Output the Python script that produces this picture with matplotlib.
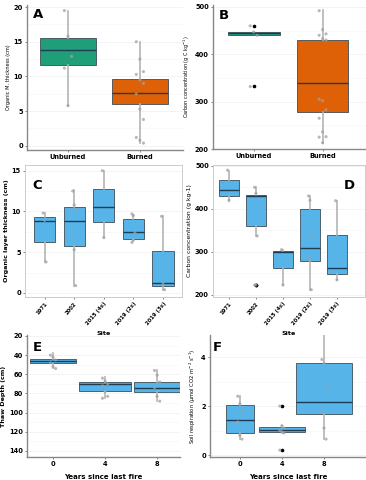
import matplotlib
matplotlib.use("Agg")
import matplotlib.pyplot as plt
from matplotlib.ticker import AutoMinorLocator

plt.rcParams['font.family'] = 'DejaVu Sans'

# ---- data ----
# Panel A: organic layer thickness, unburned vs burned
a_groups = ["Unburned", "Burned"]
a_q1 = [11.6, 6.1]
a_med = [13.8, 7.6]
a_q3 = [15.5, 9.7]
a_lo = [5.8, 0.4]
a_hi = [19.5, 15.0]
a_pts = [[19.5, 15.8, 12.9, 11.2, 5.8],
         [15.0, 12.5, 10.7, 10.3, 9.5, 9.0, 7.5, 5.3, 3.8, 1.2, 0.8, 0.4]]
a_fliers = [[], []]

# Panel B: carbon concentration, unburned vs burned
b_q1 = [441.5, 279]
b_med = [444, 339]
b_q3 = [446.5, 430]
b_lo = [440, 212]
b_hi = [447, 494]
b_pts = [[460, 447, 440, 332],
         [492, 452, 443, 440, 433, 430, 305, 302, 283, 265, 236, 226, 225, 213]]
b_fliers = [[460, 332], []]

# Panels C/D: by site
sites = ["1971", "2002", "2015 (4x)", "2019 (2x)", "2019 (3x)"]
c_q1 = [6.3, 5.8, 8.7, 6.6, 0.8]
c_med = [8.8, 8.8, 10.5, 7.5, 1.2]
c_q3 = [9.3, 10.6, 12.8, 9.06, 5.2]
c_lo = [3.8, 0.9, 6.8, 6.4, 0.4]
c_hi = [9.8, 12.6, 15.0, 9.6, 9.4]
c_pts = [[9.8, 8.9, 3.8],
         [12.5, 10.8, 10.2, 7.2, 5.3, 0.9],
         [15.0, 6.8],
         [9.7, 9.5, 7.4, 6.2, 6.5],
         [9.4, 1.2, 0.4]]
c_fliers = [[], [], [], [], []]

d_q1 = [430, 360, 262, 279, 249]
d_med = [443, 430, 300, 309, 263]
d_q3 = [466, 433, 302, 400, 340]
d_lo = [419, 337, 223, 212, 235]
d_hi = [489, 450, 305, 431, 419]
d_pts = [[490, 420],
         [450, 436, 337, 223, 223],
         [305, 223],
         [430, 420, 335, 285, 280, 212],
         [419, 235]]
d_fliers = [[], [223, 223], [], [], []]

# Panels E/F: by years since last fire
years = ["0", "4", "8"]
e_q1 = [44.0, 68.3, 68.3]
e_med = [46.1, 70.4, 74.6]
e_q3 = [48.5, 77.4, 78.8]
e_lo = [38, 63, 55.5]
e_hi = [53.7, 85, 87.8]
e_pts = [[40, 42, 45, 48, 52, 54],
         [64, 67, 70, 72, 78, 83, 85],
         [56, 61, 68, 74, 83, 88]]
e_fliers = [[], [], []]

f_q1 = [0.91, 0.95, 1.67]
f_med = [1.43, 1.04, 2.18]
f_q3 = [2.04, 1.13, 3.77]
f_lo = [0.65, 0.88, 0.65]
f_hi = [2.4, 1.2, 4.9]
f_pts = [[2.4, 2.1, 1.8, 1.35, 0.8, 0.65],
         [2.0, 1.2, 1.1, 1.0, 0.95, 0.9, 0.2],
         [3.9, 3.75, 2.7, 1.75, 1.1, 0.65]]
f_fliers = [[], [2.0, 0.2], []]

# ---- style ----
GREEN = "#1f9e78"
ORANGE = "#de6108"
BLUE = "#56b4e9"
W, H = 366, 480

fig = plt.figure(figsize=(W / 100, H / 100), dpi=100)
fig.patch.set_facecolor("white")


def make_ax(x0, y0, x1, y1):
    ax = fig.add_axes([x0 / W, 1 - y1 / H, (x1 - x0) / W, (y1 - y0) / H])
    ax.patch.set_alpha(0)
    return ax


def draw(ax, labels, q1, med, q3, lo, hi, pts, fliers, colors, width=0.75):
    stats = []
    for i in range(len(labels)):
        stats.append(dict(q1=q1[i], med=med[i], q3=q3[i], whislo=lo[i],
                          whishi=hi[i], fliers=fliers[i], label=labels[i]))
    bp = ax.bxp(stats, positions=range(1, len(labels) + 1), widths=width,
                showcaps=False, patch_artist=True,
                whiskerprops=dict(color="#b4b4b4", linewidth=1.2),
                medianprops=dict(color="#1d3b52", linewidth=1.0),
                boxprops=dict(edgecolor="#3e4e58", linewidth=0.6),
                flierprops=dict(marker="o", markersize=1.6, markerfacecolor="black",
                                markeredgecolor="black"))
    for patch, c in zip(bp["boxes"], colors):
        patch.set_facecolor(c)
    for i, vals in enumerate(pts):
        xs = [i + 1 + ((k % 3) - 1) * 0.05 for k in range(len(vals))]
        ax.scatter(xs, vals, s=5, color="#a0a0a0", alpha=0.75, zorder=4,
                   edgecolors="none")
    ax.yaxis.set_minor_locator(AutoMinorLocator(2))
    ax.grid(axis="y", which="major", color="#eeeeee", linewidth=0.5)
    ax.grid(axis="y", which="minor", color="#f5f5f5", linewidth=0.4)
    ax.tick_params(axis="y", which="minor", length=0)
    ax.set_axisbelow(True)
    ax.tick_params(axis="both", labelsize=4.8, length=1.5, width=0.5, pad=1.5,
                   color="#555555")
    for lab in ax.get_yticklabels() + ax.get_xticklabels():
        lab.set_fontweight("bold")


def open_frame(ax):
    ax.spines["top"].set_visible(False)
    ax.spines["right"].set_visible(False)
    for s in ["left", "bottom"]:
        ax.spines[s].set_color("#888888")
        ax.spines[s].set_linewidth(1.0)


def full_frame(ax):
    for s in ax.spines.values():
        s.set_color("#cccccc")
        s.set_linewidth(0.7)


# Panel A
ax = make_ax(27, 5, 183, 150)
draw(ax, a_groups, a_q1, a_med, a_q3, a_lo, a_hi, a_pts, a_fliers, [GREEN, ORANGE], width=0.77)
ax.set_ylim(-0.6, 20.3)
ax.set_yticks([0, 5, 10, 15, 20])
ax.set_xlim(0.43, 2.6)
ax.set_ylabel("Organic M. thickness (cm)", fontsize=3.6, labelpad=2)
open_frame(ax)
ax.text(0.04, 0.91, "A", transform=ax.transAxes, fontsize=9.5, fontweight="bold")

# Panel B
ax = make_ax(213, 5, 366, 149)
draw(ax, a_groups, b_q1, b_med, b_q3, b_lo, b_hi, b_pts, b_fliers, [GREEN, ORANGE], width=0.75)
ax.set_ylim(200, 504)
ax.set_yticks([200, 300, 400, 500])
ax.set_xlim(0.41, 2.63)
ax.set_ylabel("Carbon concentration (g C kg$^{-1}$)", fontsize=3.6, labelpad=2)
open_frame(ax)
ax.text(0.04, 0.9, "B", transform=ax.transAxes, fontsize=9.5, fontweight="bold")

# Panel C
ax = make_ax(25, 165, 182, 297)
draw(ax, sites, c_q1, c_med, c_q3, c_lo, c_hi, c_pts, c_fliers, [BLUE] * 5, width=0.72)
ax.set_ylim(-0.5, 15.7)
ax.set_yticks([0, 5, 10, 15])
ax.set_xlim(0.34, 5.64)
ax.set_ylabel("Organic layer thickness (cm)", fontsize=4.6, fontweight="bold", labelpad=2)
ax.set_xlabel("Site", fontsize=4.6, fontweight="bold")
ax.xaxis.set_label_coords(0.5, -0.26)
plt.setp(ax.get_xticklabels(), rotation=50, ha="right", rotation_mode="anchor", fontsize=3.8)
full_frame(ax)
ax.text(0.05, 0.82, "C", transform=ax.transAxes, fontsize=9.5, fontweight="bold")

# Panel D
ax = make_ax(213, 165, 365, 297)
draw(ax, sites, d_q1, d_med, d_q3, d_lo, d_hi, d_pts, d_fliers, [BLUE] * 5, width=0.75)
ax.set_ylim(195, 502)
ax.set_yticks([200, 300, 400, 500])
ax.set_xlim(0.41, 6.04)
ax.set_ylabel("Carbon concentration (g kg-1)", fontsize=4.4, labelpad=2)
ax.set_xlabel("Site", fontsize=4.6, fontweight="bold")
ax.xaxis.set_label_coords(0.5, -0.26)
plt.setp(ax.get_xticklabels(), rotation=50, ha="right", rotation_mode="anchor", fontsize=3.8)
full_frame(ax)
ax.text(0.86, 0.82, "D", transform=ax.transAxes, fontsize=9.5, fontweight="bold")

# Panel E
ax = make_ax(27, 335, 180, 457)
draw(ax, years, e_q1, e_med, e_q3, e_lo, e_hi, e_pts, e_fliers, [BLUE] * 3,
     width=[0.87, 1.0, 0.9])
ax.set_ylim(146.3, 19)
ax.set_yticks([20, 40, 60, 80, 100, 120, 140])
ax.set_xlim(0.5, 3.44)
ax.set_ylabel("Thaw Depth (cm)", fontsize=4.6, fontweight="bold", labelpad=2)
ax.set_xlabel("Years since last fire", fontsize=5, fontweight="bold", labelpad=5)
open_frame(ax)
ax.text(0.04, 0.87, "E", transform=ax.transAxes, fontsize=9.5, fontweight="bold")

# Panel F
ax = make_ax(210, 335, 366, 457)
draw(ax, years, f_q1, f_med, f_q3, f_lo, f_hi, f_pts, f_fliers, [BLUE] * 3,
     width=[0.67, 1.1, 1.33])
ax.set_ylim(-0.08, 4.9)
ax.set_yticks([0, 2, 4])
ax.set_xlim(0.29, 4.0)
ax.set_ylabel("Soil respiration ($\\mu$mol CO2 m$^{-2}$ s$^{-1}$)", fontsize=3.8, labelpad=2)
ax.set_xlabel("Years since last fire", fontsize=5, fontweight="bold", labelpad=5)
open_frame(ax)
ax.text(0.02, 0.87, "F", transform=ax.transAxes, fontsize=9.5, fontweight="bold")

fig.savefig("out.png", dpi=100, facecolor="white")
